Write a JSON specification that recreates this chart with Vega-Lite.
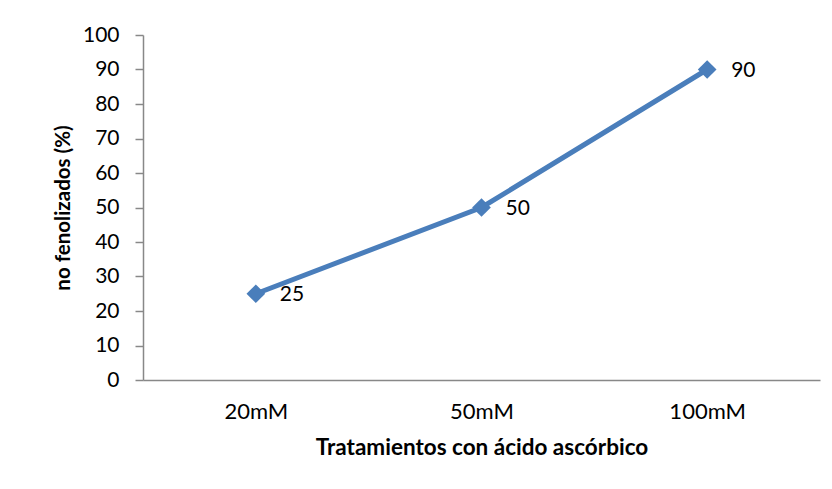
{
  "$schema": "https://vega.github.io/schema/vega-lite/v6.json",
  "width": 677,
  "height": 345,
  "autosize": {"type": "none"},
  "padding": {"left": 143, "top": 35, "right": 12, "bottom": 109},
  "background": "white",
  "config": {
    "view": {"stroke": null},
    "font": "Lato",
    "axis": {"grid": false, "domainColor": "#888888", "tickColor": "#888888", "domainWidth": 1.5, "tickWidth": 1.5, "labelColor": "black", "titleColor": "black", "labelFont": "Lato", "titleFont": "Lato"}
  },
  "data": {
    "values": [
      {"tratamiento": "20mM", "valor": 25},
      {"tratamiento": "50mM", "valor": 50},
      {"tratamiento": "100mM", "valor": 90}
    ]
  },
  "encoding": {
    "x": {
      "field": "tratamiento", "type": "ordinal", "sort": null,
      "scale": {"type": "point", "padding": 0.5},
      "axis": {"title": "Tratamientos con ácido ascórbico", "labelAngle": 0, "ticks": false, "labelFontSize": 22, "labelPadding": 21, "titleFontSize": 22.5, "titleFontWeight": "bold", "titlePadding": 14}
    },
    "y": {
      "field": "valor", "type": "quantitative",
      "scale": {"domain": [0, 100]},
      "axis": {"title": "no fenolizados (%)", "values": [0,10,20,30,40,50,60,70,80,90,100], "tickSize": 8, "labelFontSize": 21, "labelPadding": 16, "titleFontSize": 20.5, "titleFontWeight": "bold", "titlePadding": 9}
    }
  },
  "layer": [
    {"mark": {"type": "line", "color": "#4a7ebb", "strokeWidth": 5}},
    {"mark": {"type": "point", "shape": "diamond", "filled": true, "opacity": 1, "color": "#4a7ebb", "size": 350}},
    {"mark": {"type": "text", "align": "left", "baseline": "middle", "dx": 24, "dy": 1, "fontSize": 21, "font": "Lato", "color": "black"}, "encoding": {"text": {"field": "valor", "type": "quantitative"}}}
  ]
}
